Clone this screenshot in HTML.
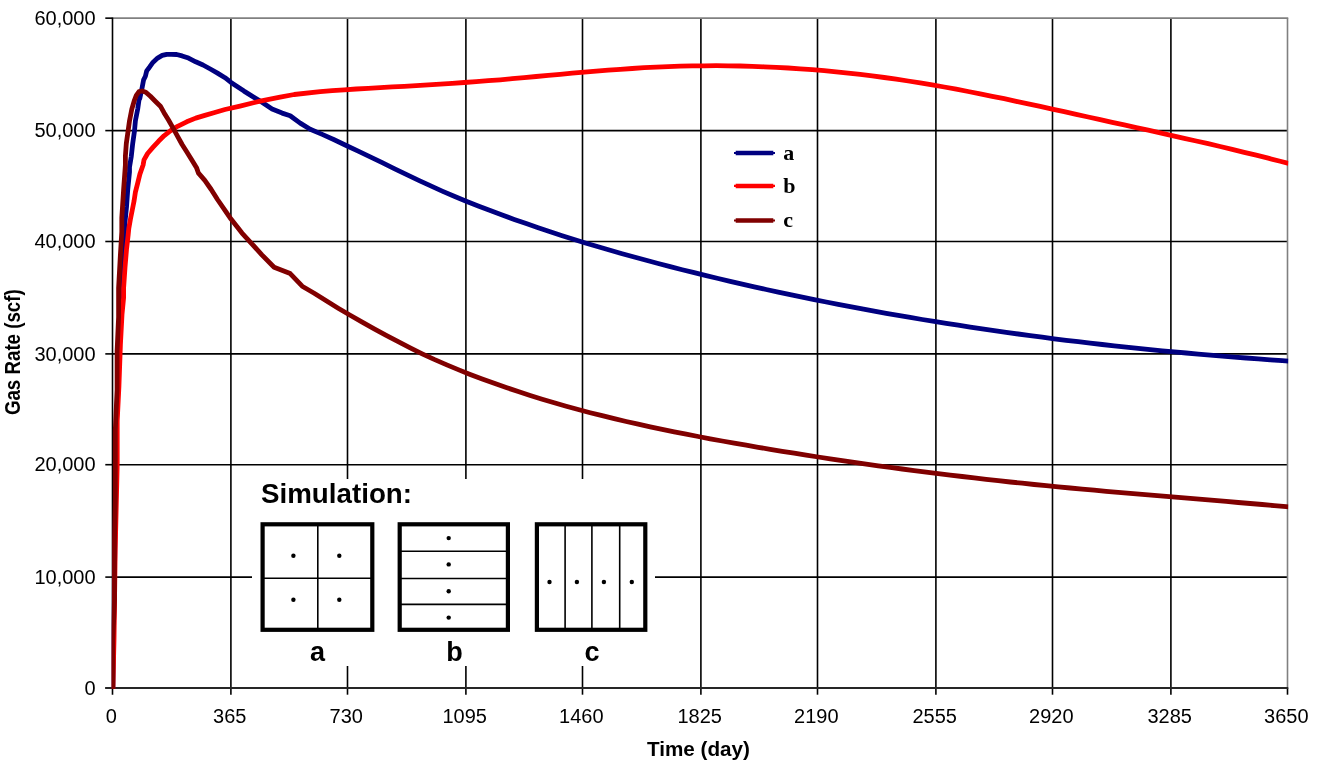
<!DOCTYPE html>
<html lang="en"><head><meta charset="utf-8"><title>Gas Rate vs Time</title>
<style>
html,body{margin:0;padding:0;background:#fff;}
body{width:1322px;height:761px;overflow:hidden;}
svg{display:block;}
.t{font-family:"Liberation Sans",Arial,sans-serif;font-size:20.7px;fill:#000;}
.tb{font-family:"Liberation Sans",Arial,sans-serif;font-size:20px;font-weight:bold;fill:#000;}
.lg{font-family:"Liberation Serif","Times New Roman",serif;font-size:22px;font-weight:bold;fill:#000;}
.sim{font-family:"Liberation Sans",Arial,sans-serif;font-size:27px;font-weight:bold;fill:#000;}
</style></head><body>
<svg width="1322" height="761" viewBox="0 0 1322 761">
<rect x="0" y="0" width="1322" height="761" fill="#fff"/>
<defs><clipPath id="plot"><rect x="111.75" y="17" width="1176.5" height="672"/></clipPath></defs>
<g stroke="#000" stroke-width="1.6" fill="none">
<line x1="112.5" y1="130.6" x2="1287.5" y2="130.6"/>
<line x1="112.5" y1="241.5" x2="1287.5" y2="241.5"/>
<line x1="112.5" y1="353.9" x2="1287.5" y2="353.9"/>
<line x1="112.5" y1="464.7" x2="1287.5" y2="464.7"/>
<line x1="112.5" y1="577.1" x2="1287.5" y2="577.1"/>
<line x1="230.9" y1="18.15" x2="230.9" y2="688"/>
<line x1="347.5" y1="18.15" x2="347.5" y2="688"/>
<line x1="465.9" y1="18.15" x2="465.9" y2="688"/>
<line x1="582.5" y1="18.15" x2="582.5" y2="688"/>
<line x1="700.9" y1="18.15" x2="700.9" y2="688"/>
<line x1="817.5" y1="18.15" x2="817.5" y2="688"/>
<line x1="935.9" y1="18.15" x2="935.9" y2="688"/>
<line x1="1052.5" y1="18.15" x2="1052.5" y2="688"/>
<line x1="1170.9" y1="18.15" x2="1170.9" y2="688"/>
</g>
<g stroke="#808080" stroke-width="1.6" fill="none">
<line x1="112.5" y1="18.15" x2="1288.25" y2="18.15"/>
<line x1="1287.5" y1="18.15" x2="1287.5" y2="688"/>
</g>
<rect x="252" y="479" width="403" height="187" fill="#fff"/>
<g stroke="#000" stroke-width="1.6" fill="none">
<line x1="112.5" y1="17.4" x2="112.5" y2="694.7"/>
<line x1="105.3" y1="18.15" x2="112.5" y2="18.15"/>
<line x1="105.3" y1="130.6" x2="112.5" y2="130.6"/>
<line x1="105.3" y1="241.5" x2="112.5" y2="241.5"/>
<line x1="105.3" y1="353.9" x2="112.5" y2="353.9"/>
<line x1="105.3" y1="464.7" x2="112.5" y2="464.7"/>
<line x1="105.3" y1="577.1" x2="112.5" y2="577.1"/>
<line x1="105.3" y1="688" x2="112.5" y2="688"/>
<line x1="230.9" y1="688" x2="230.9" y2="694.7"/>
<line x1="347.5" y1="688" x2="347.5" y2="694.7"/>
<line x1="465.9" y1="688" x2="465.9" y2="694.7"/>
<line x1="582.5" y1="688" x2="582.5" y2="694.7"/>
<line x1="700.9" y1="688" x2="700.9" y2="694.7"/>
<line x1="817.5" y1="688" x2="817.5" y2="694.7"/>
<line x1="935.9" y1="688" x2="935.9" y2="694.7"/>
<line x1="1052.5" y1="688" x2="1052.5" y2="694.7"/>
<line x1="1170.9" y1="688" x2="1170.9" y2="694.7"/>
<line x1="1287.5" y1="688" x2="1287.5" y2="694.7"/>
</g>
<line x1="105.3" y1="688" x2="1288.25" y2="688" stroke="#262626" stroke-width="1.8"/>
<g clip-path="url(#plot)" fill="none" stroke-width="4.8" stroke-linejoin="round" stroke-linecap="butt">
<path d="M112.8 690.0 L113.4 640.0 L114.8 550.0 L116.2 465.0 L116.5 421.0 L118.0 387.0 L119.2 345.0 L120.6 314.5 L121.6 288.0 L123.0 255.0 L124.3 235.0 L125.0 222.0 L126.5 207.0 L127.7 190.0 L129.5 172.0 L129.5 167.2 L131.3 156.3 L132.7 143.6 L134.5 130.9 L135.4 120.9 L137.7 109.1 L139.0 100.0 L139.9 98.1 L142.2 87.2 L143.6 79.9 L145.4 76.3 L146.7 70.9 L149.5 67.2 L153.1 62.2 L157.6 58.1 L162.2 55.4 L166.7 54.3 L171.2 54.3 L176.7 54.5 L182.1 55.9 L188.5 58.1 L195.7 61.8 L203.0 65.0 L210.3 69.0 L217.5 73.1 L225.0 77.7 L231.0 82.4 L244.0 91.1 L260.1 101.1 L272.1 109.1 L282.1 113.1 L290.2 115.7 L300.2 123.1 L310.2 129.3 L322.2 134.4 L334.2 139.8 L346.2 145.5 L358.2 151.2 L370.2 156.9 L382.2 162.7 L394.2 168.6 L406.2 174.4 L418.2 180.1 L430.2 185.7 L442.2 191.1 L454.2 196.2 L466.2 201.2 L478.2 205.9 L490.2 210.5 L502.2 215.0 L514.2 219.4 L526.2 223.6 L538.2 227.8 L550.2 231.8 L562.2 235.7 L574.2 239.5 L586.2 243.2 L598.2 246.8 L610.2 250.3 L622.2 253.7 L634.2 257.0 L646.2 260.3 L658.2 263.5 L670.2 266.6 L682.2 269.7 L694.2 272.7 L706.2 275.6 L718.2 278.5 L730.2 281.3 L742.2 284.1 L754.2 286.8 L766.2 289.5 L778.2 292.1 L790.2 294.7 L802.2 297.2 L814.2 299.6 L826.2 302.0 L838.2 304.4 L850.2 306.7 L862.2 308.9 L874.2 311.1 L886.2 313.3 L898.2 315.4 L910.2 317.4 L922.2 319.5 L934.2 321.4 L946.2 323.4 L958.2 325.2 L970.2 327.1 L982.2 328.9 L994.2 330.6 L1006.2 332.3 L1018.2 334.0 L1030.2 335.6 L1042.2 337.2 L1054.2 338.8 L1066.2 340.3 L1078.2 341.7 L1090.2 343.1 L1102.2 344.5 L1114.2 345.9 L1126.2 347.1 L1138.2 348.4 L1150.2 349.6 L1162.2 350.8 L1174.2 351.9 L1186.2 353.0 L1198.2 354.1 L1210.2 355.1 L1222.2 356.1 L1234.2 357.1 L1246.2 358.0 L1258.2 358.9 L1270.2 359.8 L1282.2 360.6 L1288.5 361.1" stroke="#000080"/>
<path d="M112.8 690.0 L114.0 640.0 L115.2 550.0 L117.2 465.0 L117.2 421.0 L118.9 387.0 L120.4 345.0 L122.0 314.5 L123.6 297.7 L123.6 288.0 L125.0 267.7 L126.5 249.5 L128.1 235.4 L128.8 228.5 L130.4 219.4 L132.2 210.4 L134.0 201.3 L135.4 192.2 L137.7 183.1 L139.9 174.1 L143.1 165.0 L144.0 159.9 L147.6 153.5 L153.1 147.2 L158.5 141.3 L164.0 135.8 L170.3 130.9 L177.6 126.3 L186.7 121.8 L195.7 118.1 L204.8 115.4 L213.9 112.7 L225.0 109.5 L240.0 106.1 L260.1 101.1 L280.1 97.1 L294.2 94.5 L320.2 91.7 L332.2 90.7 L344.2 89.8 L356.2 89.0 L368.2 88.3 L380.2 87.6 L392.2 86.9 L404.2 86.3 L416.2 85.6 L428.2 84.9 L440.2 84.1 L452.2 83.4 L464.2 82.5 L476.2 81.7 L488.2 80.7 L500.2 79.8 L512.2 78.7 L524.2 77.6 L536.2 76.5 L548.2 75.4 L560.2 74.3 L572.2 73.2 L584.2 72.2 L596.2 71.2 L608.2 70.2 L620.2 69.3 L632.2 68.5 L644.2 67.7 L656.2 67.1 L668.2 66.6 L680.2 66.2 L692.2 65.9 L704.2 65.8 L716.2 65.7 L728.2 65.8 L740.2 66.0 L752.2 66.3 L764.2 66.8 L776.2 67.3 L788.2 68.0 L800.2 68.8 L812.2 69.7 L824.2 70.7 L836.2 71.8 L848.2 73.1 L860.2 74.4 L872.2 75.9 L884.2 77.5 L896.2 79.2 L908.2 81.0 L920.2 82.9 L932.2 84.9 L944.2 87.0 L956.2 89.2 L968.2 91.5 L980.2 93.8 L992.2 96.3 L1004.2 98.7 L1016.2 101.3 L1028.2 103.8 L1040.2 106.4 L1052.2 109.1 L1064.2 111.7 L1076.2 114.4 L1088.2 117.0 L1100.2 119.7 L1112.2 122.3 L1124.2 124.9 L1136.2 127.6 L1148.2 130.2 L1160.2 132.9 L1172.2 135.6 L1184.2 138.3 L1196.2 141.0 L1208.2 143.7 L1220.2 146.5 L1232.2 149.4 L1244.2 152.3 L1256.2 155.2 L1268.2 158.2 L1280.2 161.3 L1288.5 163.4" stroke="#ff0000"/>
<path d="M112.8 690.0 L112.8 640.0 L114.5 600.0 L114.5 540.0 L115.3 500.0 L115.3 430.0 L117.1 390.0 L117.1 351.0 L118.6 317.0 L118.6 288.0 L120.4 255.0 L121.8 232.0 L121.8 218.0 L123.6 190.0 L125.4 165.0 L125.4 156.0 L126.3 143.6 L128.1 130.9 L129.5 120.9 L131.8 109.1 L134.5 100.0 L136.3 95.4 L139.0 91.7 L142.2 91.0 L145.8 92.2 L150.4 96.3 L155.8 101.7 L160.4 106.2 L164.0 112.7 L168.5 120.0 L173.1 128.1 L177.6 136.3 L182.1 144.5 L186.7 151.7 L191.2 159.0 L196.7 168.1 L198.5 173.2 L204.8 180.4 L211.2 189.5 L217.5 199.5 L225.0 210.4 L231.0 219.1 L242.0 233.1 L252.1 244.1 L262.1 255.1 L274.1 267.2 L290.2 273.6 L302.2 286.2 L314.2 293.2 L326.2 300.8 L338.2 308.2 L350.2 315.3 L362.2 322.2 L374.2 328.9 L386.2 335.4 L398.2 341.7 L410.2 347.9 L422.2 353.8 L434.2 359.4 L446.2 364.6 L458.2 369.6 L470.2 374.4 L482.2 378.9 L494.2 383.3 L506.2 387.5 L518.2 391.6 L530.2 395.5 L542.2 399.2 L554.2 402.8 L566.2 406.2 L578.2 409.5 L590.2 412.7 L602.2 415.7 L614.2 418.7 L626.2 421.5 L638.2 424.2 L650.2 426.9 L662.2 429.4 L674.2 431.9 L686.2 434.2 L698.2 436.5 L710.2 438.8 L722.2 441.0 L734.2 443.1 L746.2 445.2 L758.2 447.3 L770.2 449.3 L782.2 451.3 L794.2 453.2 L806.2 455.1 L818.2 457.0 L830.2 458.8 L842.2 460.6 L854.2 462.4 L866.2 464.1 L878.2 465.8 L890.2 467.4 L902.2 469.0 L914.2 470.6 L926.2 472.1 L938.2 473.6 L950.2 475.1 L962.2 476.5 L974.2 477.9 L986.2 479.3 L998.2 480.7 L1010.2 482.0 L1022.2 483.2 L1034.2 484.5 L1046.2 485.7 L1058.2 486.8 L1070.2 488.0 L1082.2 489.1 L1094.2 490.2 L1106.2 491.3 L1118.2 492.3 L1130.2 493.4 L1142.2 494.4 L1154.2 495.4 L1166.2 496.4 L1178.2 497.4 L1190.2 498.4 L1202.2 499.4 L1214.2 500.4 L1226.2 501.4 L1238.2 502.5 L1250.2 503.5 L1262.2 504.5 L1274.2 505.6 L1286.2 506.7 L1288.5 506.9" stroke="#800000"/>
</g>
<text class="t" x="95.6" y="24.75" text-anchor="end" textLength="61.16" lengthAdjust="spacingAndGlyphs">60,000</text>
<text class="t" x="95.6" y="137.2" text-anchor="end" textLength="61.16" lengthAdjust="spacingAndGlyphs">50,000</text>
<text class="t" x="95.6" y="248.1" text-anchor="end" textLength="61.16" lengthAdjust="spacingAndGlyphs">40,000</text>
<text class="t" x="95.6" y="360.5" text-anchor="end" textLength="61.16" lengthAdjust="spacingAndGlyphs">30,000</text>
<text class="t" x="95.6" y="471.3" text-anchor="end" textLength="61.16" lengthAdjust="spacingAndGlyphs">20,000</text>
<text class="t" x="95.6" y="583.7" text-anchor="end" textLength="61.16" lengthAdjust="spacingAndGlyphs">10,000</text>
<text class="t" x="95.6" y="694.6" text-anchor="end" textLength="11.12" lengthAdjust="spacingAndGlyphs">0</text>
<text class="t" x="111.3" y="722.8" text-anchor="middle" textLength="11.12" lengthAdjust="spacingAndGlyphs">0</text>
<text class="t" x="229.7" y="722.8" text-anchor="middle" textLength="33.36" lengthAdjust="spacingAndGlyphs">365</text>
<text class="t" x="346.3" y="722.8" text-anchor="middle" textLength="33.36" lengthAdjust="spacingAndGlyphs">730</text>
<text class="t" x="464.7" y="722.8" text-anchor="middle" textLength="44.48" lengthAdjust="spacingAndGlyphs">1095</text>
<text class="t" x="581.3" y="722.8" text-anchor="middle" textLength="44.48" lengthAdjust="spacingAndGlyphs">1460</text>
<text class="t" x="699.7" y="722.8" text-anchor="middle" textLength="44.48" lengthAdjust="spacingAndGlyphs">1825</text>
<text class="t" x="816.3" y="722.8" text-anchor="middle" textLength="44.48" lengthAdjust="spacingAndGlyphs">2190</text>
<text class="t" x="934.7" y="722.8" text-anchor="middle" textLength="44.48" lengthAdjust="spacingAndGlyphs">2555</text>
<text class="t" x="1051.3" y="722.8" text-anchor="middle" textLength="44.48" lengthAdjust="spacingAndGlyphs">2920</text>
<text class="t" x="1169.7" y="722.8" text-anchor="middle" textLength="44.48" lengthAdjust="spacingAndGlyphs">3285</text>
<text class="t" x="1286.3" y="722.8" text-anchor="middle" textLength="44.48" lengthAdjust="spacingAndGlyphs">3650</text>
<text class="tb" x="698.4" y="755.8" text-anchor="middle" textLength="103" lengthAdjust="spacingAndGlyphs">Time (day)</text>
<text class="tb" style="font-size:22.5px" transform="translate(19.9 352.2) rotate(-90)" text-anchor="middle" textLength="125.8" lengthAdjust="spacingAndGlyphs">Gas Rate (scf)</text>
<path d="M734 151.9 H735.7 V150.75 H773.3 V151.9 H775 V154.1 H773.3 V155.25 H735.7 V154.1 H734 Z" fill="#000080"/>
<text class="lg" x="783.3" y="159.6">a</text>
<path d="M734 184.8 H735.7 V183.65 H773.3 V184.8 H775 V187 H773.3 V188.15 H735.7 V187 H734 Z" fill="#ff0000"/>
<text class="lg" x="783.3" y="192.5">b</text>
<path d="M734 219.4 H735.7 V218.25 H773.3 V219.4 H775 V221.6 H773.3 V222.75 H735.7 V221.6 H734 Z" fill="#800000"/>
<text class="lg" x="783.3" y="226.9">c</text>
<text class="sim" x="261" y="502.5" textLength="151" lengthAdjust="spacingAndGlyphs">Simulation:</text>
<rect x="262.6" y="524.3" width="109.7" height="105.5" fill="#fff" stroke="#000" stroke-width="4.2"/>
<rect x="399.7" y="524.3" width="108.2" height="105.5" fill="#fff" stroke="#000" stroke-width="4.2"/>
<rect x="536.9" y="524.3" width="108.4" height="105.5" fill="#fff" stroke="#000" stroke-width="4.2"/>
<g stroke="#000" stroke-width="1.6" fill="none">
<line x1="317.8" y1="523.2" x2="317.8" y2="630.9"/>
<line x1="261.5" y1="578.3" x2="373.4" y2="578.3"/>
<line x1="398.6" y1="551.3" x2="509" y2="551.3"/>
<line x1="398.6" y1="578.5" x2="509" y2="578.5"/>
<line x1="398.6" y1="604.4" x2="509" y2="604.4"/>
<line x1="565.1" y1="523.2" x2="565.1" y2="630.9"/>
<line x1="591.9" y1="523.2" x2="591.9" y2="630.9"/>
<line x1="619.7" y1="523.2" x2="619.7" y2="630.9"/>
</g>
<g fill="#000">
<circle cx="293.4" cy="555.8" r="2.2"/>
<circle cx="339.3" cy="555.8" r="2.2"/>
<circle cx="293.4" cy="599.8" r="2.2"/>
<circle cx="339.3" cy="599.8" r="2.2"/>
<circle cx="448.7" cy="538.1" r="2.2"/>
<circle cx="448.7" cy="564.4" r="2.2"/>
<circle cx="448.7" cy="591.2" r="2.2"/>
<circle cx="448.7" cy="617.6" r="2.2"/>
<circle cx="549.5" cy="582" r="2.2"/>
<circle cx="576.9" cy="582" r="2.2"/>
<circle cx="603.9" cy="582" r="2.2"/>
<circle cx="631.8" cy="582" r="2.2"/>
</g>
<text class="sim" x="317.4" y="660.8" text-anchor="middle">a</text>
<text class="sim" x="454.6" y="660.8" text-anchor="middle">b</text>
<text class="sim" x="591.9" y="660.8" text-anchor="middle">c</text>
</svg>
</body></html>
